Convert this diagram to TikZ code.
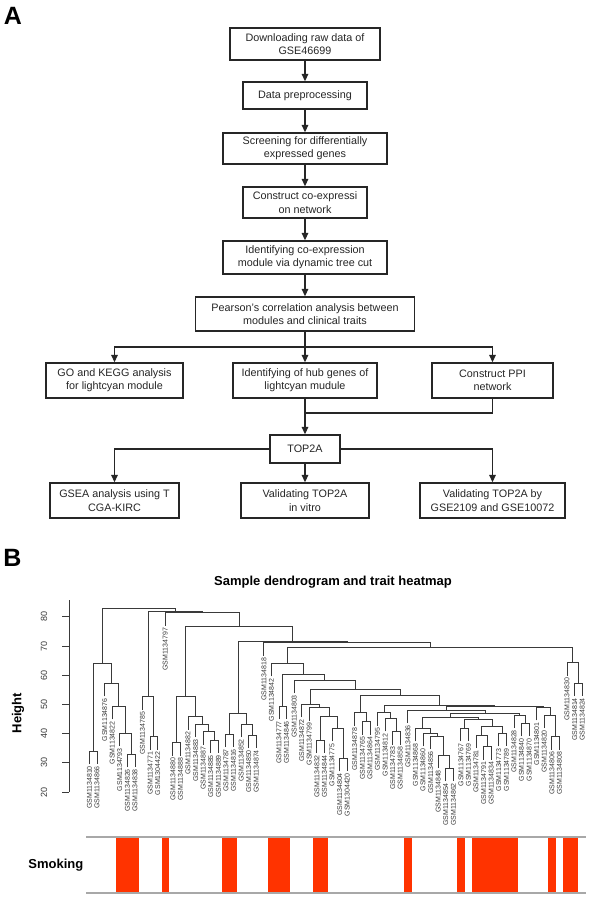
\documentclass[tikz,border=0pt]{standalone}
\usepackage{fontspec}
\setmainfont{Liberation Sans}
\usetikzlibrary{arrows.meta}
\definecolor{ink}{HTML}{262626}
\definecolor{dink}{HTML}{3A3A3A}
\definecolor{smk}{rgb}{1,0.2,0}
\definecolor{hgray}{HTML}{A8A8A8}
\tikzset{
  fbox/.style={draw=ink, line width=1.3pt, fill=white, align=center, inner sep=0pt,
    font=\fontsize{10.8}{13.3}\selectfont, text=ink},
  arr/.style={draw=ink, line width=1.3pt, -{Triangle[width=6.5pt,length=7.5pt]}},
  conn/.style={draw=ink, line width=1.3pt},
  dend/.style={draw=dink, line width=0.9pt},
  leaflab/.style={rotate=90, anchor=east, inner sep=0pt, font=\fontsize{7}{7}\selectfont, text=dink},
  ticklab/.style={rotate=90, inner sep=0pt, font=\fontsize{9}{9}\selectfont, text=dink},
  boldlab/.style={inner sep=0pt, font=\bfseries\fontsize{13}{13}\selectfont},
  panellab/.style={inner sep=0pt, font=\bfseries\fontsize{25}{25}\selectfont},
}
\newcommand\dleaf[2]{%
  \pgfmathsetmacro\dtmp{89.5+(#1-1)*7.58}%
  \expandafter\xdef\csname dx@#1\endcsname{\dtmp}%
  \expandafter\gdef\csname dy@#1\endcsname{-1}%
  \expandafter\gdef\csname dl@#1\endcsname{#2}}
\newcommand\dmerge[4]{%
  \edef\dxa{\csname dx@#2\endcsname}\edef\dya{\csname dy@#2\endcsname}%
  \edef\dxb{\csname dx@#3\endcsname}\edef\dyb{\csname dy@#3\endcsname}%
  \ifdim\dya pt<0pt
    \pgfmathsetmacro\dya{#4+13}%
    \node[leaflab, name=lf#2] at (\dxa,\dya+2) {\csname dl@#2\endcsname};%
  \fi
  \ifdim\dyb pt<0pt
    \pgfmathsetmacro\dyb{#4+13}%
    \node[leaflab, name=lf#3] at (\dxb,\dyb+2) {\csname dl@#3\endcsname};%
  \fi
  \draw[dend] (\dxa,\dya) -- (\dxa,#4) -- (\dxb,#4) -- (\dxb,\dyb);%
  \pgfmathsetmacro\dtmp{(\dxa+\dxb)/2}%
  \expandafter\xdef\csname dx@#1\endcsname{\dtmp}%
  \expandafter\xdef\csname dy@#1\endcsname{#4}}
\begin{document}
\begin{tikzpicture}[x=1pt,y=-1pt]
\useasboundingbox (0,0) rectangle (593,897);
\fill[white] (0,0) rectangle (593,897);

% ---------------- Panel A ----------------
\node[panellab] (pa) at (13,16) {A};
\node[fbox, minimum width=150pt, minimum height=32pt] (b1) at (305,44) {Downloading raw data of\\GSE46699};
\node[fbox, minimum width=124pt, minimum height=27pt] (b2) at (305,95.5) {Data preprocessing};
\node[fbox, minimum width=164pt, minimum height=31pt] (b3) at (305,148.5) {Screening for differentially\\expressed genes};
\node[fbox, minimum width=124pt, minimum height=31pt] (b4) at (305,202.5) {Construct co-expressi\\on network};
\node[fbox, minimum width=164pt, minimum height=33pt] (b5) at (305,257.5) {Identifying co-expression\\module via dynamic tree cut};
\node[fbox, minimum width=219pt, minimum height=34pt] (b6) at (305,314) {Pearson's correlation analysis between\\modules and clinical traits};
\node[fbox, minimum width=137pt, minimum height=35pt] (go) at (114.5,380.5) {GO and KEGG analysis\\for lightcyan module};
\node[fbox, minimum width=144pt, minimum height=35pt] (hub) at (305,380.5) {Identifying of hub genes of\\lightcyan mudule};
\node[fbox, minimum width=121pt, minimum height=35pt] (ppi) at (492.5,380.5) {Construct PPI\\network};
\node[fbox, minimum width=70pt, minimum height=28pt] (top) at (305,449) {TOP2A};
\node[fbox, minimum width=129pt, minimum height=35pt] (gsea) at (114.5,500.5) {GSEA analysis using T\\CGA-KIRC};
\node[fbox, minimum width=128pt, minimum height=35pt] (vit) at (305,500.5) {Validating TOP2A\\in vitro};
\node[fbox, minimum width=145pt, minimum height=35pt] (gse) at (492.5,500.5) {Validating TOP2A by\\GSE2109 and GSE10072};

\draw[arr] (b1) -- (b2);
\draw[arr] (b2) -- (b3);
\draw[arr] (b3) -- (b4);
\draw[arr] (b4) -- (b5);
\draw[arr] (b5) -- (b6);
\coordinate (split) at (305,347);
\draw[arr] (b6.south) -- (hub.north);
\draw[arr] (split) -| (go.north);
\draw[arr] (split) -| (ppi.north);
\coordinate (join) at (305,413);
\draw[conn] (ppi.south) |- (join);
\draw[arr] (hub.south) -- (top.north);
\draw[arr] (top.west) -| (gsea.north);
\draw[arr] (top.east) -| (gse.north);
\draw[arr] (top.south) -- (vit.north);

% ---------------- Panel B ----------------
\node[panellab] (pb) at (12.5,558) {B};
\node[boldlab] (title) at (333,582) {Sample dendrogram and trait heatmap};
\node[boldlab, rotate=90] (hlab) at (18,713) {Height};
\draw[dend] (69,600) -- (69,792);
\foreach \h in {20,30,40,50,60,70,80}{
  \pgfmathsetmacro\ty{792-(\h-20)*2.92}
  \draw[dend] (62,\ty) -- (69,\ty);
  \node[ticklab] (tk\h) at (44,\ty) {\h};
}

\dleaf{1}{GSM1134810}\dleaf{2}{GSM1134866}\dleaf{3}{GSM1134876}\dleaf{4}{GSM1134822}
\dleaf{5}{GSM1134793}\dleaf{6}{GSM1134826}\dleaf{7}{GSM1134838}\dleaf{8}{GSM1134785}
\dleaf{9}{GSM1134771}\dleaf{10}{GSM1304422}\dleaf{11}{GSM1134797}\dleaf{12}{GSM1134880}
\dleaf{13}{GSM1134888}\dleaf{14}{GSM1134882}\dleaf{15}{GSM1134883}\dleaf{16}{GSM1134887}
\dleaf{17}{GSM1134885}\dleaf{18}{GSM1134889}\dleaf{19}{GSM1134787}\dleaf{20}{GSM1134816}
\dleaf{21}{GSM1134852}\dleaf{22}{GSM1134850}\dleaf{23}{GSM1134874}\dleaf{24}{GSM1134818}
\dleaf{25}{GSM1134842}\dleaf{26}{GSM1134777}\dleaf{27}{GSM1134846}\dleaf{28}{GSM1134803}
\dleaf{29}{GSM1134872}\dleaf{30}{GSM1134799}\dleaf{31}{GSM1134832}\dleaf{32}{GSM1134844}
\dleaf{33}{GSM1134775}\dleaf{34}{GSM1134804}\dleaf{35}{GSM1304420}\dleaf{36}{GSM1134878}
\dleaf{37}{GSM1134765}\dleaf{38}{GSM1134864}\dleaf{39}{GSM1134795}\dleaf{40}{GSM1134812}
\dleaf{41}{GSM1134783}\dleaf{42}{GSM1134858}\dleaf{43}{GSM1134836}\dleaf{44}{GSM1134868}
\dleaf{45}{GSM1134860}\dleaf{46}{GSM1134856}\dleaf{47}{GSM1134848}\dleaf{48}{GSM1134854}
\dleaf{49}{GSM1134862}\dleaf{50}{GSM1134767}\dleaf{51}{GSM1134769}\dleaf{52}{GSM1134781}
\dleaf{53}{GSM1134791}\dleaf{54}{GSM1134834}\dleaf{55}{GSM1134773}\dleaf{56}{GSM1134789}
\dleaf{57}{GSM1134828}\dleaf{58}{GSM1134840}\dleaf{59}{GSM1134870}\dleaf{60}{GSM1134801}
\dleaf{61}{GSM1134820}\dleaf{62}{GSM1134806}\dleaf{63}{GSM1134808}\dleaf{64}{GSM1134830}
\dleaf{65}{GSM1134814}\dleaf{66}{GSM1134824}

\dmerge{p12}{1}{2}{751}
\dmerge{p67}{6}{7}{754}
\dmerge{c5}{5}{p67}{733.2}
\dmerge{c4}{4}{c5}{706.3}
\dmerge{c3}{3}{c4}{683.3}
\dmerge{C1}{p12}{c3}{663.5}
\dmerge{p910}{9}{10}{736.7}
\dmerge{C2}{8}{p910}{696.7}
\dmerge{p1213}{12}{13}{742.7}
\dmerge{p1718}{17}{18}{740}
\dmerge{g16}{16}{p1718}{731.7}
\dmerge{g15}{15}{g16}{724}
\dmerge{g14}{14}{g15}{716.7}
\dmerge{G}{p1213}{g14}{696}
\dmerge{p1920}{19}{20}{734}
\dmerge{p2223}{22}{23}{735}
\dmerge{H2}{21}{p2223}{724}
\dmerge{H}{p1920}{H2}{713.3}
\dmerge{p2627}{26}{27}{706}
\dmerge{p3132}{31}{32}{740}
\dmerge{p3435}{34}{35}{758}
\dmerge{U}{33}{p3435}{728.3}
\dmerge{S}{p3132}{U}{716}
\dmerge{R}{30}{S}{707.5}
\dmerge{Q}{29}{R}{704}
\dmerge{p3738}{37}{38}{721.7}
\dmerge{X1}{36}{p3738}{712.7}
\dmerge{p4142}{41}{42}{731.7}
\dmerge{Z2}{40}{p4142}{718.3}
\dmerge{Z1}{39}{Z2}{712.7}
\dmerge{p4849}{48}{49}{768}
\dmerge{Y4}{47}{p4849}{755}
\dmerge{Y3}{46}{Y4}{736}
\dmerge{Y2}{45}{Y3}{733.3}
\dmerge{Y1}{44}{Y2}{728.3}
\dmerge{p5051}{50}{51}{728.3}
\dmerge{p5354}{53}{54}{746.7}
\dmerge{B3}{52}{p5354}{735}
\dmerge{p5556}{55}{56}{733.3}
\dmerge{B2}{B3}{p5556}{726.7}
\dmerge{B1}{p5051}{B2}{719.3}
\dmerge{A3}{Y1}{B1}{717}
\dmerge{p5859}{58}{59}{723.3}
\dmerge{Q8}{57}{p5859}{715}
\dmerge{A2}{A3}{Q8}{713}
\dmerge{A1}{43}{A2}{710}
\dmerge{p6263}{62}{63}{736.7}
\dmerge{Pr2}{61}{p6263}{715}
\dmerge{Pr3}{60}{Pr2}{707.3}
\dmerge{N4}{A1}{Pr3}{706.7}
\dmerge{X2}{Z1}{N4}{705}
\dmerge{W}{X1}{X2}{695}
\dmerge{P}{Q}{W}{689.3}
\dmerge{O}{28}{P}{680}
\dmerge{N}{p2627}{O}{674}
\dmerge{L}{25}{N}{663.3}
\dmerge{p6566}{65}{66}{683}
\dmerge{M}{64}{p6566}{662.7}
\dmerge{J}{L}{M}{647.3}
\dmerge{K}{24}{J}{642.7}
\dmerge{HK}{H}{K}{641}
\dmerge{F}{G}{HK}{626}
\dmerge{E}{11}{F}{612.7}
\dmerge{D}{C2}{E}{611.7}
\dmerge{root}{C1}{D}{608.3}

% heatmap
\node[boldlab, anchor=east] (smoking) at (83.5,865) {Smoking};
\foreach \a/\b in {5/7,11/11,19/20,25/27,31/32,43/43,50/50,52/57,62/62,64/65}{
  \fill[smk] ({85.71+(\a-1)*7.58},837) rectangle ({85.71+\b*7.58},893);
}
\draw[hgray, line width=1.2pt] (86,837) -- (586,837);
\draw[hgray, line width=1.2pt] (86,893) -- (586,893);
\end{tikzpicture}
\end{document}
